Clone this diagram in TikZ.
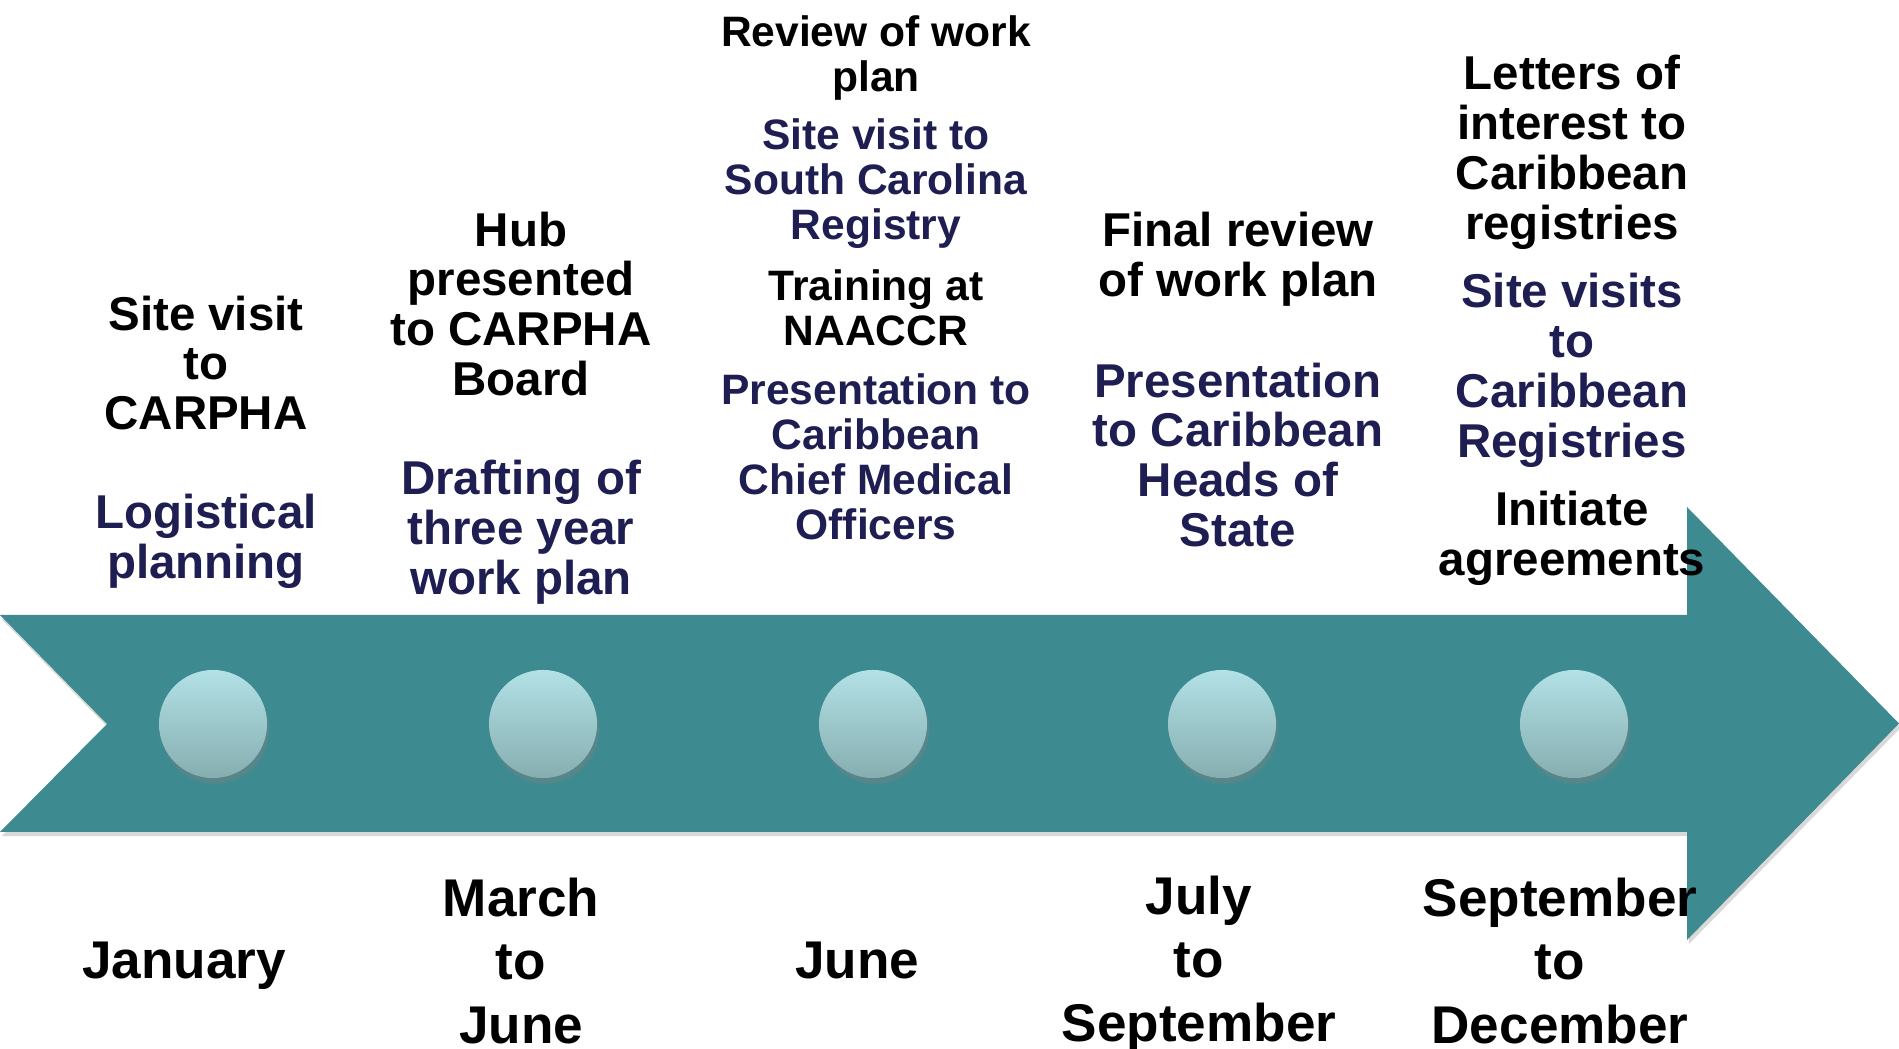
\documentclass[tikz,border=0pt]{standalone}
\usepackage{fontspec}
\setmainfont{Liberation Sans}
\usetikzlibrary{shadows}

\definecolor{bandteal}{RGB}{61,139,145}
\definecolor{navy}{RGB}{30,30,82}
\definecolor{dottop}{RGB}{178,225,230}
\definecolor{dotbot}{RGB}{134,174,176}

\begin{document}
\begin{tikzpicture}[x=0.01cm, y=-0.01cm,
  blk/.style={align=center, inner sep=0pt, text=black, font=\bfseries\fontsize{13.5}{14.2}\selectfont},
  nav/.style={blk, text=navy},
  small/.style={font=\bfseries\fontsize{12.1}{12.8}\selectfont},
  month/.style={blk, font=\bfseries\fontsize{15.1}{18.1}\selectfont},
  dot/.style={circle, inner sep=0pt, minimum size=1.08cm, top color=dottop, bottom color=dotbot,
    drop shadow={opacity=0.4, shadow xshift=0.6pt, shadow yshift=-1.6pt}}]
  \useasboundingbox (0,0) rectangle (1899,1049);

  % the arrow
  \fill[bandteal, drop shadow={opacity=0.3, shadow xshift=0.5pt, shadow yshift=-1.2pt}]
    (0,615) -- (1687,615) -- (1687,507) -- (1899,723.5) -- (1687,940) -- (1687,832)
    -- (0,832) -- (107,724) -- cycle;

  % milestones
  \foreach \x [count=\i] in {213,543,873,1222,1574}
    \node[dot] (d\i) at (\x,724) {};

  % January
  \node[blk] (visit) at (206,363) {Site visit\\to\\CARPHA};
  \node[nav] (logis) at (206,541) {Logistical\\planning};
  % March to June
  \node[blk] (hub) at (521,304) {Hub\\presented\\to CARPHA\\Board};
  \node[nav] (draft) at (521,532) {Drafting of\\three year\\work plan};
  % June
  \node[blk, small] (review) at (876,58) {Review of work\\plan};
  \node[nav, small] (carolina) at (876,184) {Site visit to\\South Carolina\\Registry};
  \node[blk, small] (naaccr) at (876,308) {Training at\\NAACCR};
  \node[nav, small] (cmo) at (876,457) {Presentation to\\Caribbean\\Chief Medical\\Officers};
  % July to September
  \node[blk] (final) at (1238,259) {Final review\\of work plan};
  \node[nav] (heads) at (1238,455) {Presentation\\to Caribbean\\Heads of\\State};
  % September to December
  \node[blk] (letters) at (1572,152) {Letters of\\interest to\\Caribbean\\registries};
  \node[nav] (visits) at (1572,370) {Site visits\\to\\Caribbean\\Registries};
  \node[blk] (agree) at (1572,538) {Initiate\\agreements};

  % months
  \node[month] (jan) at (184,966) {January};
  \node[month] (mar) at (521,961) {March\\to\\June};
  \node[month] (jun) at (857,960) {June};
  \node[month] (jul) at (1199,964) {July\\to\\September};
  \node[month] (sep) at (1560,961) {September\\to\\December};
\end{tikzpicture}
\end{document}
